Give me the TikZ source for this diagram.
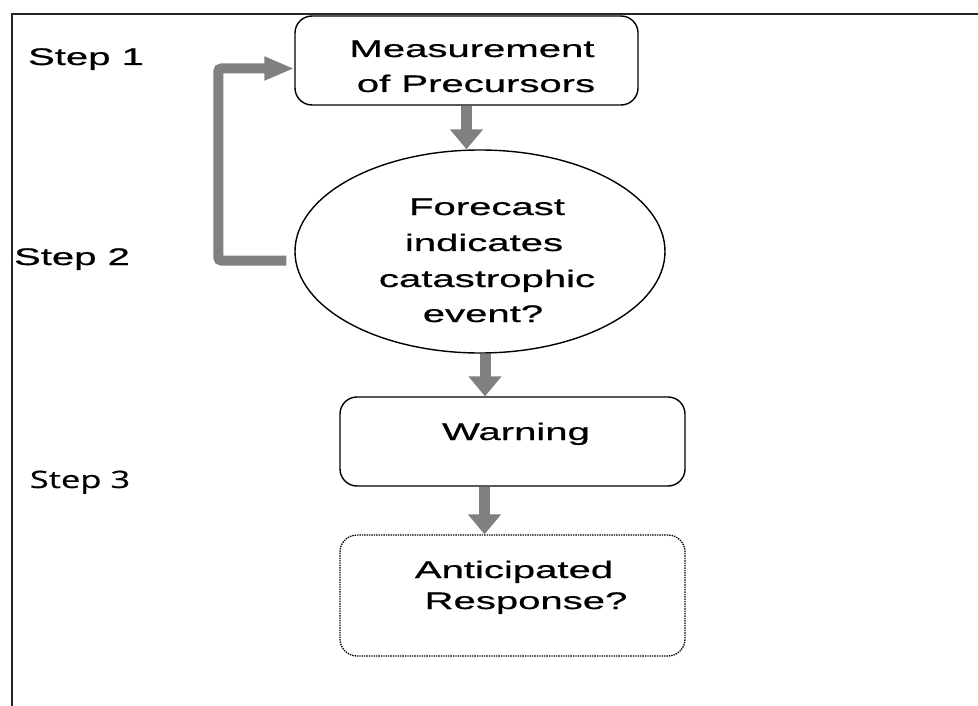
\documentclass[tikz,border=0pt]{standalone}
\usepackage{fontspec}
\setmainfont{Liberation Sans}[FakeStretch=1.67,FakeBold=0.7]
\newfontfamily\stepfont{Open Sans}[FakeStretch=1.44,FakeBold=0.5]
\usetikzlibrary{arrows.meta,shapes.geometric}
\tikzset{
  box/.style={draw, line width=1.4pt, rounded corners=17pt, minimum width=345pt, minimum height=89pt, inner sep=0pt},
  flow/.style={draw=gray, line width=11pt, -{Triangle[width=32pt,length=20pt]}},
  txt/.style={anchor=base, inner sep=0pt, font=\fontsize{24}{35}\selectfont},
}
\begin{document}
\begin{tikzpicture}[x=1pt,y=-1pt]  % early warning chain
			\useasboundingbox (0,0) rectangle (978,706);
			\draw[line width=1.3pt, black!85] (12,706) -- (12,14) -- (978,14);
			\node[box, minimum width=343pt] (measure) at (466.5,60.5) {};
			\node[draw, ellipse, line width=1.4pt, minimum width=370pt, minimum height=203pt, inner sep=0pt] (forecast) at (480,251.5) {};
			\node[box] (warning) at (512.5,441.5) {};
			\node[box, densely dotted, line width=1.3pt, minimum height=121pt] (response) at (512.5,595.5) {};
			\draw[flow] (measure.south) -- (measure.south |- forecast.north);
			\draw[flow] ([xshift=5pt]forecast.south) -- ([xshift=5pt]forecast.south |- warning.north);
			\draw[flow] ([xshift=-28pt]warning.south) -- ([xshift=-28pt]warning.south |- response.north);
			\draw[flow, line width=10pt, rounded corners=3pt, -{Triangle[width=22pt,length=30pt]}] ([xshift=-8pt,yshift=-9pt]forecast.west) -- ++(-68,0) |- ([yshift=-8pt]measure.west);
			\node[txt] (measure1) at (472,57) {Measurement};
			\node[txt] (measure2) at (476,92) {of Precursors};
			\node[txt] (forecast1) at (487,215) {Forecast};
			\node[txt] (forecast2) at (484,251) {indicates};
			\node[txt] (forecast3) at (487,287) {catastrophic};
			\node[txt] (forecast4) at (483,322) {event?};
			\node[txt] (warning1) at (516,440) {Warning};
			\node[txt] (response1) at (514,578) {Anticipated};
			\node[txt] (response2) at (526,609) {Response?};
			\node[txt] (step1) at (86,65) {Step 1};
			\node[txt] (step2) at (72,265) {Step 2};
			\node[txt, font=\stepfont\fontsize{24}{30}\selectfont] (step3) at (80,488) {Step 3};
		\end{tikzpicture}
\end{document}
